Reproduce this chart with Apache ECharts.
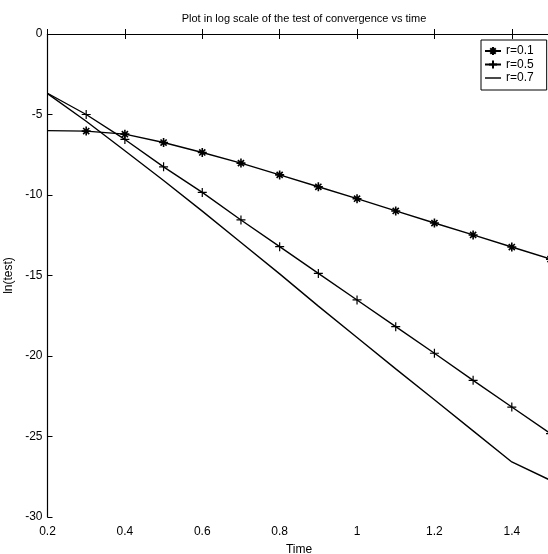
<!DOCTYPE html>
<html>
<head>
<meta charset="utf-8">
<script src="https://cdn.jsdelivr.net/npm/echarts@6/dist/echarts.min.js"></script>
<style>
html,body{margin:0;padding:0;background:#fff;}
#chart{width:548px;height:554px;}
</style>
</head>
<body>
<div id="chart"></div>
<script>
// ---- data ----
const time = [0.2, 0.3, 0.4, 0.5, 0.6, 0.7, 0.8, 0.9, 1.0, 1.1, 1.2, 1.3, 1.4, 1.5];
const r01 = [-6.0, -6.03, -6.22, -6.74, -7.36, -8.02, -8.75, -9.49, -10.23, -10.99, -11.74, -12.48, -13.23, -13.98];
const r05 = [-3.68, -5.0, -6.55, -8.25, -9.84, -11.55, -13.21, -14.87, -16.52, -18.18, -19.83, -21.51, -23.17, -24.82];
const r07 = [-3.7, -5.42, -7.25, -9.1, -11.0, -12.95, -14.9, -16.9, -18.85, -20.8, -22.72, -24.65, -26.58, -27.72];
const seriesNames = ['r=0.1', 'r=0.5', 'r=0.7'];
const titleText = 'Plot in log scale of the test of convergence vs time';
const xName = 'Time';
const yName = 'ln(test)';

const FONT = 'Liberation Sans';
const STAR = 'path://M0,5L10,5M5,0L5,10M1.6,1.6L8.4,8.4M1.6,8.4L8.4,1.6';
const PLUS = 'path://M0,5L10,5M5,0L5,10';
const LINE_ICON = 'path://M0,0h20v1.8h-20z';

function pts(ys, hideFirst) {
  return time.map((t, i) => {
    const item = { value: [t, ys[i]] };
    if (hideFirst && i === 0) item.symbol = 'none';
    return item;
  });
}

const chart = echarts.init(document.getElementById('chart'), null, { renderer: 'canvas' });

const axisCommon = {
  axisLine: { show: true, lineStyle: { color: '#000', width: 1.2 } },
  axisTick: { show: true, inside: true, length: 5, lineStyle: { color: '#000', width: 1 } },
  splitLine: { show: false },
  axisLabel: { color: '#000', fontFamily: FONT, fontSize: 12 }
};

chart.setOption({
  animation: false,
  backgroundColor: '#fff',
  textStyle: { fontFamily: FONT },
  title: {
    text: titleText,
    left: 299, top: 8, textAlign: 'center',
    textStyle: { fontFamily: FONT, fontSize: 11, fontWeight: 'normal', color: '#000' }
  },
  grid: { left: 47.5, top: 34, width: 503, height: 483, containLabel: false, outerBoundsMode: 'none' },
  legend: {
    orient: 'vertical',
    left: 481, top: 40,
    backgroundColor: '#fff',
    borderColor: '#000', borderWidth: 1,
    padding: [5, 13, 6, 3],
    itemGap: 1.5,
    itemWidth: 16, itemHeight: 10,
    itemTextGap: 4,
    textStyle: { fontFamily: FONT, fontSize: 12, color: '#000' },
    data: [
      { name: seriesNames[0] },
      { name: seriesNames[1] },
      { name: seriesNames[2], icon: LINE_ICON, itemStyle: { color: '#000' } }
    ]
  },
  xAxis: [
    Object.assign({}, axisCommon, {
      type: 'value', position: 'bottom',
      min: 0.2, max: 1.5, interval: 0.2,
      name: xName, nameLocation: 'middle', nameGap: 27,
      nameTextStyle: { fontFamily: FONT, fontSize: 12, color: '#000' },
      axisLabel: Object.assign({}, axisCommon.axisLabel, { margin: 9, showMaxLabel: false })
    }),
    Object.assign({}, axisCommon, {
      type: 'value', position: 'top',
      min: 0.2, max: 1.5, interval: 0.2,
      axisLabel: { show: false }
    })
  ],
  yAxis: [
    Object.assign({}, axisCommon, {
      type: 'value', position: 'left',
      min: -30, max: 0, interval: 5,
      name: yName, nameLocation: 'middle', nameGap: 28,
      nameTextStyle: { fontFamily: FONT, fontSize: 12, color: '#000' },
      axisLabel: Object.assign({}, axisCommon.axisLabel, { margin: 5 })
    })
  ],
  series: [
    {
      name: seriesNames[0], type: 'line', xAxisIndex: 0,
      data: pts(r01, true),
      symbol: STAR, symbolSize: 9, showAllSymbol: true,
      lineStyle: { color: '#000', width: 1.4 },
      itemStyle: { color: '#000', borderColor: '#000', borderWidth: 1.6 }
    },
    {
      name: seriesNames[1], type: 'line', xAxisIndex: 0,
      data: pts(r05, true),
      symbol: PLUS, symbolSize: 9, showAllSymbol: true,
      lineStyle: { color: '#000', width: 1.4 },
      itemStyle: { color: '#000', borderColor: '#000', borderWidth: 1.2 }
    },
    {
      name: seriesNames[2], type: 'line', xAxisIndex: 0,
      data: pts(r07, false),
      symbol: 'none', showSymbol: false,
      lineStyle: { color: '#000', width: 1.4 },
      itemStyle: { color: '#000' }
    }
  ]
});
</script>
</body>
</html>
